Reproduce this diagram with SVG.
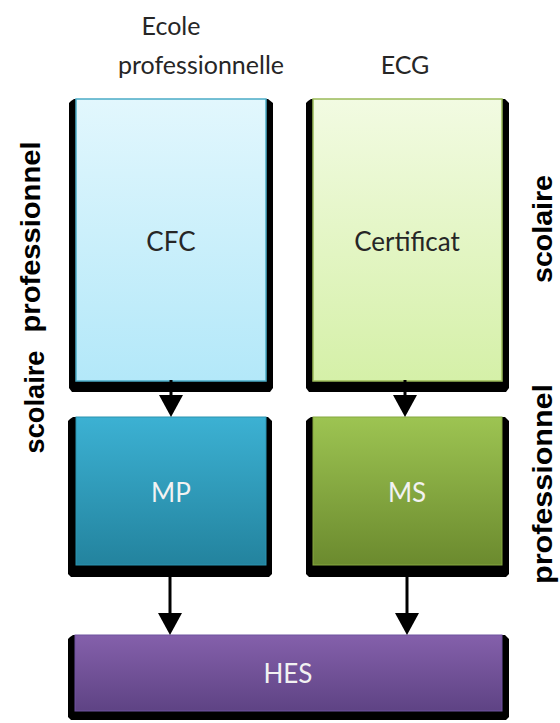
<svg xmlns="http://www.w3.org/2000/svg" width="560" height="723" viewBox="0 0 560 723">
<style>
.lbl{font-family:Lato,"Open Sans","Liberation Sans",sans-serif;font-size:25px;fill:#262626;text-anchor:middle}
.in{font-family:Lato,"Open Sans","Liberation Sans",sans-serif;font-size:26px;text-anchor:middle}
.dark{fill:#262626}
.light{fill:#f2f2f2}
.side{font-family:"Liberation Sans",Arial,sans-serif;font-weight:bold;font-size:27px;fill:#000;text-anchor:middle}
.shadow{fill:#000}
.conn line{stroke:#000;stroke-width:3}
.conn polygon{fill:#000}
</style>
<defs>
<linearGradient id="gCFC" x1="0" y1="0" x2="0" y2="1"><stop offset="0" stop-color="#e2f7fd"/><stop offset="1" stop-color="#b3e8f9"/></linearGradient>
<linearGradient id="gCert" x1="0" y1="0" x2="0" y2="1"><stop offset="0" stop-color="#f2fbe2"/><stop offset="1" stop-color="#d5f0a8"/></linearGradient>
<linearGradient id="gMP" x1="0" y1="0" x2="0" y2="1"><stop offset="0" stop-color="#3cb1d3"/><stop offset="1" stop-color="#23839e"/></linearGradient>
<linearGradient id="gMS" x1="0" y1="0" x2="0" y2="1"><stop offset="0" stop-color="#9dc452"/><stop offset="1" stop-color="#6b8a2e"/></linearGradient>
<linearGradient id="gHES" x1="0" y1="0" x2="0" y2="1"><stop offset="0" stop-color="#8460ab"/><stop offset="1" stop-color="#5e4384"/></linearGradient>
</defs>

<g id="headers">
<text class="lbl" x="171" y="35">Ecole</text>
<text class="lbl" x="201" y="74">professionnelle</text>
<text class="lbl" x="405" y="74">ECG</text>
</g>

<g id="side-labels">
<text class="side" transform="translate(40,237) rotate(-90)" textLength="191" lengthAdjust="spacingAndGlyphs">professionnel</text>
<text class="side" transform="translate(44,402) rotate(-90)" textLength="103" lengthAdjust="spacingAndGlyphs">scolaire</text>
<text class="side" transform="translate(552,229) rotate(-90)" textLength="108" lengthAdjust="spacingAndGlyphs">scolaire</text>
<text class="side" transform="translate(552,484) rotate(-90)" textLength="200" lengthAdjust="spacingAndGlyphs">professionnel</text>
</g>

<g id="CFC">
<path class="shadow" d="M71,101 L74,99 L268,99 L273,103 L273,388 L270,392 L72,392 L69,388 L69,103 Z"/>
<rect x="76" y="99" width="190" height="282" fill="url(#gCFC)" stroke="#4bacc6" stroke-width="1.5"/>
<text class="in dark" x="171" y="251">CFC</text>
</g>

<g id="Certificat">
<path class="shadow" d="M308,101 L311,99 L505,99 L509,103 L509,388 L506,392 L309,392 L306,388 L306,103 Z"/>
<rect x="313" y="99" width="189" height="282" fill="url(#gCert)" stroke="#9bbb59" stroke-width="1.5"/>
<text class="in dark" x="407" y="251">Certificat</text>
</g>

<g id="MP">
<path class="shadow" d="M70,419 L73,417 L268,417 L272,421 L272,574 L269,577 L71,577 L68,574 L68,421 Z"/>
<rect x="76" y="417" width="190" height="148" fill="url(#gMP)" stroke="#2a93b0" stroke-width="1"/>
<text class="in light" x="171" y="502">MP</text>
</g>

<g id="MS">
<path class="shadow" d="M308,419 L311,417 L505,417 L509,421 L509,574 L506,577 L309,577 L306,574 L306,421 Z"/>
<rect x="313" y="417" width="189" height="148" fill="url(#gMS)" stroke="#86a83f" stroke-width="1"/>
<text class="in light" x="407" y="502">MS</text>
</g>

<g id="HES">
<path class="shadow" d="M70,637 L73,635 L505,635 L509,639 L509,717 L506,720 L71,720 L68,717 L68,639 Z"/>
<rect x="75" y="635" width="427" height="76" fill="url(#gHES)" stroke="#6f52a0" stroke-width="1"/>
<text class="in light" x="288" y="683">HES</text>
</g>

<g id="connectors" class="conn">
<line x1="171" y1="380" x2="171" y2="398"/>
<polygon points="159,395 183,395 171,417"/>
<line x1="405" y1="380" x2="405" y2="398"/>
<polygon points="393,395 417,395 405,417"/>
<line x1="170" y1="566" x2="170" y2="616"/>
<polygon points="158,613 182,613 170,635"/>
<line x1="407" y1="566" x2="407" y2="616"/>
<polygon points="395,613 419,613 407,635"/>
</g>
</svg>
